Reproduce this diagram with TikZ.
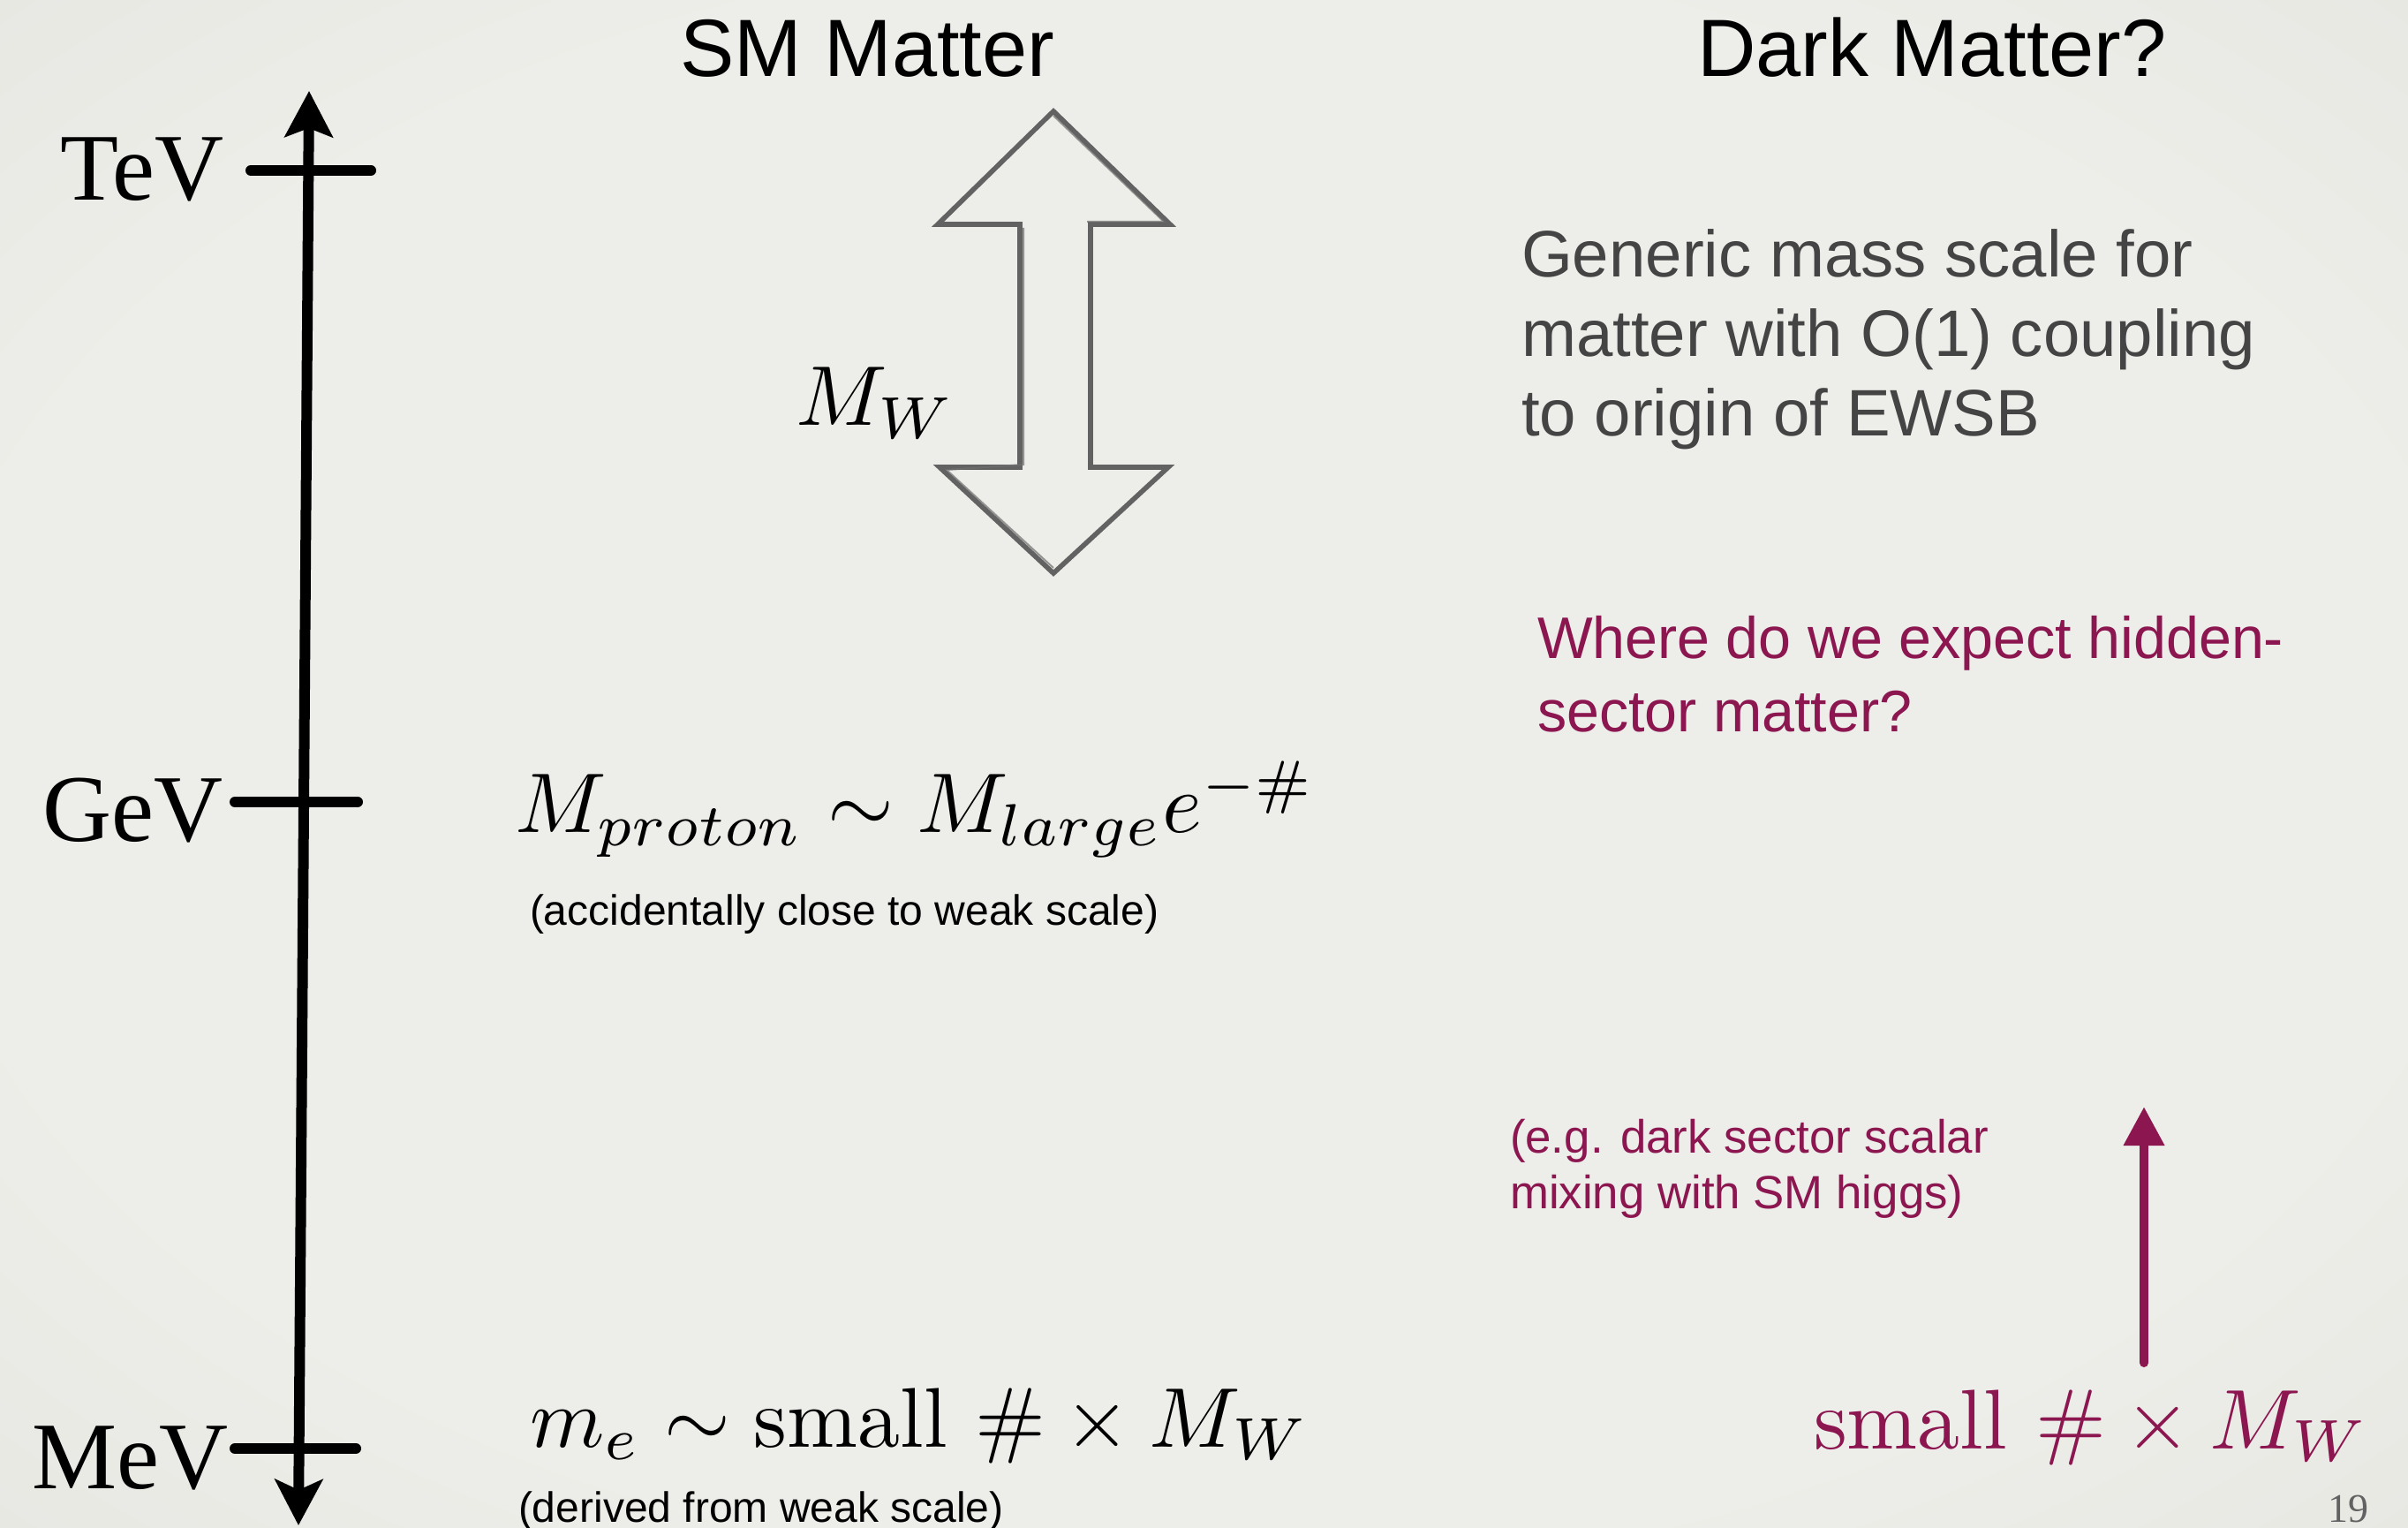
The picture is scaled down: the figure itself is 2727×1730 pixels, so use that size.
\documentclass[tikz,border=0pt]{standalone}
\usepackage{fontspec}
\usepackage{graphicx}
\usetikzlibrary{arrows.meta}
\newfontfamily\hv{Liberation Sans}
\newfontfamily\tms{Liberation Serif}
\definecolor{mag}{RGB}{140,22,80}
\definecolor{dgray}{RGB}{68,68,68}
\definecolor{agray}{RGB}{98,98,98}
\definecolor{pgray}{RGB}{110,110,110}
\definecolor{bgA}{RGB}{237,237,233}
\definecolor{bgB}{RGB}{224,224,218}
\definecolor{bgC}{RGB}{200,200,193}
\pgfdeclareradialshading{vign}{\pgfpoint{0bp}{0bp}}{color(0bp)=(bgA); color(26bp)=(bgA); color(50bp)=(bgB); color(72bp)=(bgC)}
\tikzset{
  title/.style={font=\hv\fontsize{23}{27}\selectfont, anchor=base west, text=black},
  unitlbl/.style={font=\tms\fontsize{27}{33}\selectfont, anchor=base east, text=black},
  axisline/.style={line width=3pt, draw=black},
  tickline/.style={line width=3pt, draw=black, line cap=round},
  smallnote/.style={font=\hv\fontsize{12}{14}\selectfont, anchor=base west, text=black},
  formula/.style={anchor=base west},
  bigarrow/.style={draw=agray, line width=1.4pt, line join=miter},
  bigarrowsketch/.style={draw=pgray, line width=0.5pt, opacity=0.7},
}
\begin{document}
\begin{tikzpicture}[x=0.25pt,y=-0.25pt, every node/.style={inner sep=0pt, outer sep=0pt}]
\useasboundingbox (0,0) rectangle (2727,1730);
\shade[shading=vign] (0,0) rectangle (2727,1730);

% titles
\node[title] (smt) at (770,87) {SM Matter};
\node[title] (dmt) at (1922,87) {Dark Matter?};

% energy axis
\coordinate (axT) at (350,103);
\coordinate (axB) at (338,1727);
\draw[axisline, {Stealth[length=13pt,width=13.5pt,inset=3pt]}-{Stealth[length=13pt,width=13.5pt,inset=2.5pt]}] (axB) -- (axT);
\coordinate (tevL) at (284,193);  \coordinate (tevR) at (420,193);
\coordinate (gevL) at (266,908);  \coordinate (gevR) at (405,908);
\coordinate (mevL) at (266,1640); \coordinate (mevR) at (403,1640);
\draw[tickline] (tevL) -- (tevR);
\draw[tickline] (gevL) -- (gevR);
\draw[tickline] (mevL) -- (mevR);
\node[unitlbl] (tev) at (253,227) {TeV};
\node[unitlbl] (gev) at (252,952) {GeV};
\node[unitlbl] (mev) at (258,1685) {MeV};

% double arrow
\draw[bigarrow] (1193,126) -- (1325,254) -- (1235,254) -- (1235,529) -- (1323,529)
  -- (1193,649) -- (1064,529) -- (1155,529) -- (1155,254) -- (1062,254) -- cycle;
\draw[bigarrowsketch] (1193,131) -- (1318,251) -- (1231,251);
\draw[bigarrowsketch] (1159,258) -- (1159,526) -- (1072,532) -- (1193,643);
\node[formula] (mw) at (901,482) {\scalebox{2.4}{$M_W$}};

% SM formulas
\node[formula] (mp) at (583,943) {\scalebox{2.4}{$M_{proton}\sim M_{large}e^{-\#}$}};
\node[smallnote] (acc) at (600,1047) {(accidentally close to weak scale)};
\node[formula] (me) at (600,1638) {\scalebox{2.4}{$m_e\sim \mathrm{small}\ \#\times M_W$}};
\node[smallnote] (der) at (587,1723) {(derived from weak scale)};

% dark matter column
\node[anchor=base west, font=\hv\fontsize{18.6}{22.5}\selectfont, text=dgray] (gen) at (1723,314)
  {\begin{tabular}[t]{@{}l@{}}Generic mass scale for\\ matter with O(1) coupling\\ to origin of EWSB\end{tabular}};
\node[anchor=base west, font=\hv\fontsize{16.6}{20.6}\selectfont, text=mag] (where) at (1741,746)
  {\begin{tabular}[t]{@{}l@{}}Where do we expect hidden-\\ sector matter?\end{tabular}};
\node[anchor=base west, font=\hv\fontsize{13.2}{15.8}\selectfont, text=mag] (eg) at (1710,1305)
  {\begin{tabular}[t]{@{}l@{}}(e.g. dark sector scalar\\ mixing with SM higgs)\end{tabular}};
\node[formula, text=mag] (dsm) at (2054,1640) {\scalebox{2.4}{$\mathrm{small}\ \#\times M_W$}};
\coordinate (dmB) at (2428,1543);
\coordinate (dmT) at (2428,1253);
\draw[mag, line width=2.5pt, line cap=round, -{Triangle[length=11pt,width=11pt]}] (dmB) -- (dmT);

% page number
\node[anchor=base east, font=\tms\fontsize{11.5}{13}\selectfont, text=agray] (pg) at (2682,1723) {19};
\end{tikzpicture}
\end{document}
